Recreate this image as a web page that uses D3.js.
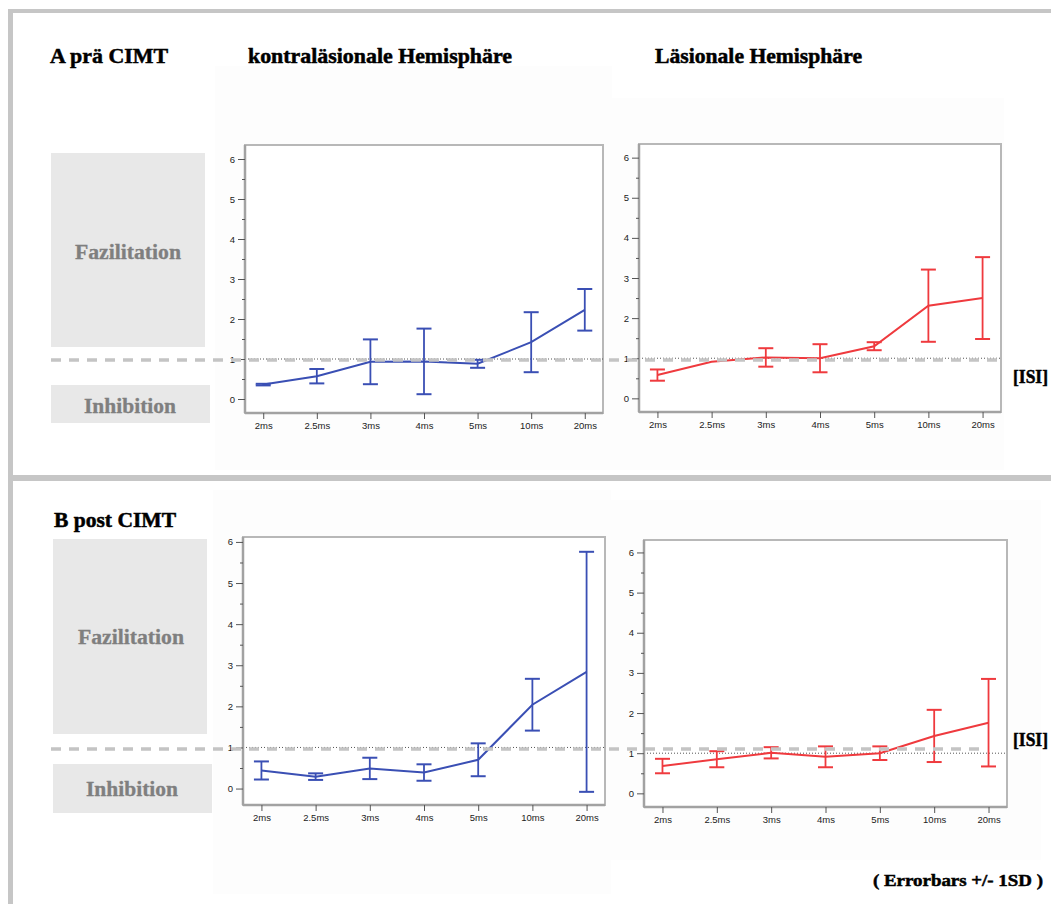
<!DOCTYPE html>
<html>
<head>
<meta charset="utf-8">
<script src="https://cdn.jsdelivr.net/npm/d3@7"></script>
<style>
  html, body { margin: 0; padding: 0; background: #ffffff; }
  svg { display: block; }
</style>
</head>
<body>
<svg id="chart" width="1051" height="904"></svg>
<script>
// Interstimulus intervals (x categories)
const isi = ["2ms", "2.5ms", "3ms", "4ms", "5ms", "10ms", "20ms"];
const yTicks = [0, 1, 2, 3, 4, 5, 6];
const yMinorTicks = [0.5, 1.5, 2.5, 3.5, 4.5, 5.5];

// A: before CIMT
const preContraMean = [0.36, 0.57, 0.93, 0.94, 0.88, 1.42, 2.23];
const preContraSD   = [0.02, 0.18, 0.56, 0.82, 0.10, 0.75, 0.52];
const preLesMean    = [0.58, 0.91, 1.02, 1.00, 1.30, 2.31, 2.50];
const preLesSD      = [0.14, 0.00, 0.23, 0.35, 0.10, 0.90, 1.02];

// B: after CIMT
const postContraMean = [0.44, 0.29, 0.49, 0.39, 0.70, 2.04, 2.84];
const postContraSD   = [0.22, 0.08, 0.26, 0.20, 0.40, 0.63, 2.92];
const postLesMean    = [0.68, 0.85, 1.01, 0.91, 1.00, 1.43, 1.76];
const postLesSD      = [0.18, 0.20, 0.14, 0.26, 0.17, 0.65, 1.09];

const blue = "#3a4fb4";
const red = "#ef3a3e";

const svg = d3.select("#chart");

// Page frame
const frame = svg.append("g");
frame.append("rect").attr("x", 8).attr("y", 9).attr("width", 1043).attr("height", 4).attr("fill", "#c6c6c6");
frame.append("rect").attr("x", 8).attr("y", 9).attr("width", 5).attr("height", 895).attr("fill", "#c6c6c6");
frame.append("rect").attr("x", 8).attr("y", 475).attr("width", 1043).attr("height", 6).attr("fill", "#c6c6c6");

// Faint panel backdrops
[[215, 66, 397, 404], [612, 98, 392, 372], [213, 490, 398, 404], [611, 500, 430, 360]].forEach(b => {
  svg.append("rect").attr("x", b[0]).attr("y", b[1]).attr("width", b[2]).attr("height", b[3]).attr("fill", "#fdfdfd");
});

// Headings
function heading(text, x, y, len, size) {
  svg.append("text")
    .attr("x", x).attr("y", y)
    .attr("textLength", len).attr("lengthAdjust", "spacingAndGlyphs")
    .attr("font-family", "'Liberation Serif', 'DejaVu Serif', serif")
    .attr("font-weight", "bold").attr("font-size", size)
    .attr("fill", "#000").attr("stroke", "#000").attr("stroke-width", 0.5)
    .text(text);
}
heading("A prä CIMT", 50, 63, 118, 21);
heading("kontraläsionale Hemisphäre", 248, 63, 264, 21);
heading("Läsionale Hemisphäre", 655, 63, 207, 21);
heading("B post CIMT", 54, 527, 122, 21);
heading("[ISI]", 1013, 383, 35, 18);
heading("[ISI]", 1013, 746, 35, 18);
heading("( Errorbars +/- 1SD )", 873, 886, 170, 17);

// Side boxes: facilitation above 1, inhibition below 1
function sideBox(label, x, y, w, h, tx, ty, len) {
  svg.append("rect").attr("x", x).attr("y", y).attr("width", w).attr("height", h).attr("fill", "#e8e8e8");
  svg.append("text")
    .attr("x", tx).attr("y", ty)
    .attr("textLength", len).attr("lengthAdjust", "spacingAndGlyphs")
    .attr("font-family", "'Liberation Serif', 'DejaVu Serif', serif")
    .attr("font-weight", "bold").attr("font-size", 20)
    .attr("dominant-baseline", "central")
    .attr("fill", "#7f7f7f").attr("stroke", "#7f7f7f").attr("stroke-width", 0.3)
    .text(label);
}
sideBox("Fazilitation", 51, 153, 154, 194, 75, 252, 106);
sideBox("Inhibition", 51, 385, 159, 38, 84, 406, 92);
sideBox("Fazilitation", 53, 539, 154, 195, 78, 637, 106);
sideBox("Inhibition", 53, 764, 159, 49, 86, 789, 92);

// Panels
const panels = [
  { x0: 245, x1: 603, y0: 145, y1: 413, vTop: 6.35, vBot: -0.35, mean: preContraMean, sd: preContraSD, color: blue },
  { x0: 639, x1: 1001, y0: 144, y1: 412, vTop: 6.34, vBot: -0.34, mean: preLesMean, sd: preLesSD, color: red },
  { x0: 243, x1: 605, y0: 537, y1: 805, vTop: 6.12, vBot: -0.40, mean: postContraMean, sd: postContraSD, color: blue },
  { x0: 644, x1: 1007, y0: 540, y1: 807, vTop: 6.31, vBot: -0.34, mean: postLesMean, sd: postLesSD, color: red }
];

panels.forEach(p => {
  p.x = d3.scalePoint().domain(isi).range([p.x0, p.x1]).padding(0.34);
  p.y = d3.scaleLinear().domain([p.vBot, p.vTop]).range([p.y1, p.y0]);
  const g = svg.append("g");
  p.g = g;
  g.append("rect").attr("x", p.x0).attr("y", p.y0).attr("width", p.x1 - p.x0).attr("height", p.y1 - p.y0)
    .attr("fill", "#ffffff").attr("stroke", "#b8b8b8").attr("stroke-width", 2);

  // reference line at ratio 1
  g.append("line").attr("x1", p.x0).attr("x2", p.x1).attr("y1", p.y(1)).attr("y2", p.y(1))
    .attr("stroke", "#555").attr("stroke-width", 1).attr("stroke-dasharray", "1,2");

  // y axis
  const ya = g.append("g").attr("transform", `translate(${p.x0},0)`)
    .call(d3.axisLeft(p.y).tickValues(yTicks).tickSize(7).tickPadding(3).tickFormat(d3.format("d")));
  const yb = g.append("g").attr("transform", `translate(${p.x0},0)`)
    .call(d3.axisLeft(p.y).tickValues(yMinorTicks).tickSize(3).tickFormat(""));
  // x axis
  const xa = g.append("g").attr("transform", `translate(0,${p.y1})`)
    .call(d3.axisBottom(p.x).tickSize(6).tickPadding(3));
  [ya, yb, xa].forEach(a => {
    a.select(".domain").attr("stroke", "#a2a2a2").attr("stroke-width", 2.5);
    a.selectAll(".tick line").attr("stroke", "#555");
    a.selectAll("text").attr("font-family", "'Liberation Sans', Arial, sans-serif")
      .attr("font-size", 9.5).attr("fill", "#222");
  });
  ya.select(".domain").attr("d", `M0,${p.y0}V${p.y1}`);
  yb.select(".domain").remove();
  xa.select(".domain").attr("d", `M${p.x0},0H${p.x1}`);
});

// Dashed threshold line across each row
[[360, 51, 1000], [749, 51, 982]].forEach(d => {
  svg.append("line").attr("x1", d[1]).attr("x2", d[2]).attr("y1", d[0]).attr("y2", d[0])
    .attr("stroke", "#c4c4c4").attr("stroke-width", 3.5).attr("stroke-dasharray", "10,8");
});

// Series: mean line and ±1 SD error bars
panels.forEach(p => {
  const rows = isi.map((k, i) => ({ k, m: p.mean[i], s: p.sd[i] }));
  const line = d3.line().x(d => p.x(d.k)).y(d => p.y(d.m));
  p.g.append("path").datum(rows).attr("d", line)
    .attr("fill", "none").attr("stroke", p.color).attr("stroke-width", 2);
  const eb = p.g.append("g").selectAll("g").data(rows.filter(d => d.s > 0)).join("g")
    .attr("stroke", p.color).attr("stroke-width", 2);
  eb.append("line").attr("x1", d => p.x(d.k)).attr("x2", d => p.x(d.k))
    .attr("y1", d => p.y(d.m - d.s)).attr("y2", d => p.y(d.m + d.s)).attr("stroke-width", 1.8);
  eb.append("line").attr("x1", d => p.x(d.k) - 7.5).attr("x2", d => p.x(d.k) + 7.5)
    .attr("y1", d => p.y(d.m + d.s)).attr("y2", d => p.y(d.m + d.s));
  eb.append("line").attr("x1", d => p.x(d.k) - 7.5).attr("x2", d => p.x(d.k) + 7.5)
    .attr("y1", d => p.y(d.m - d.s)).attr("y2", d => p.y(d.m - d.s));
});
</script>
</body>
</html>
